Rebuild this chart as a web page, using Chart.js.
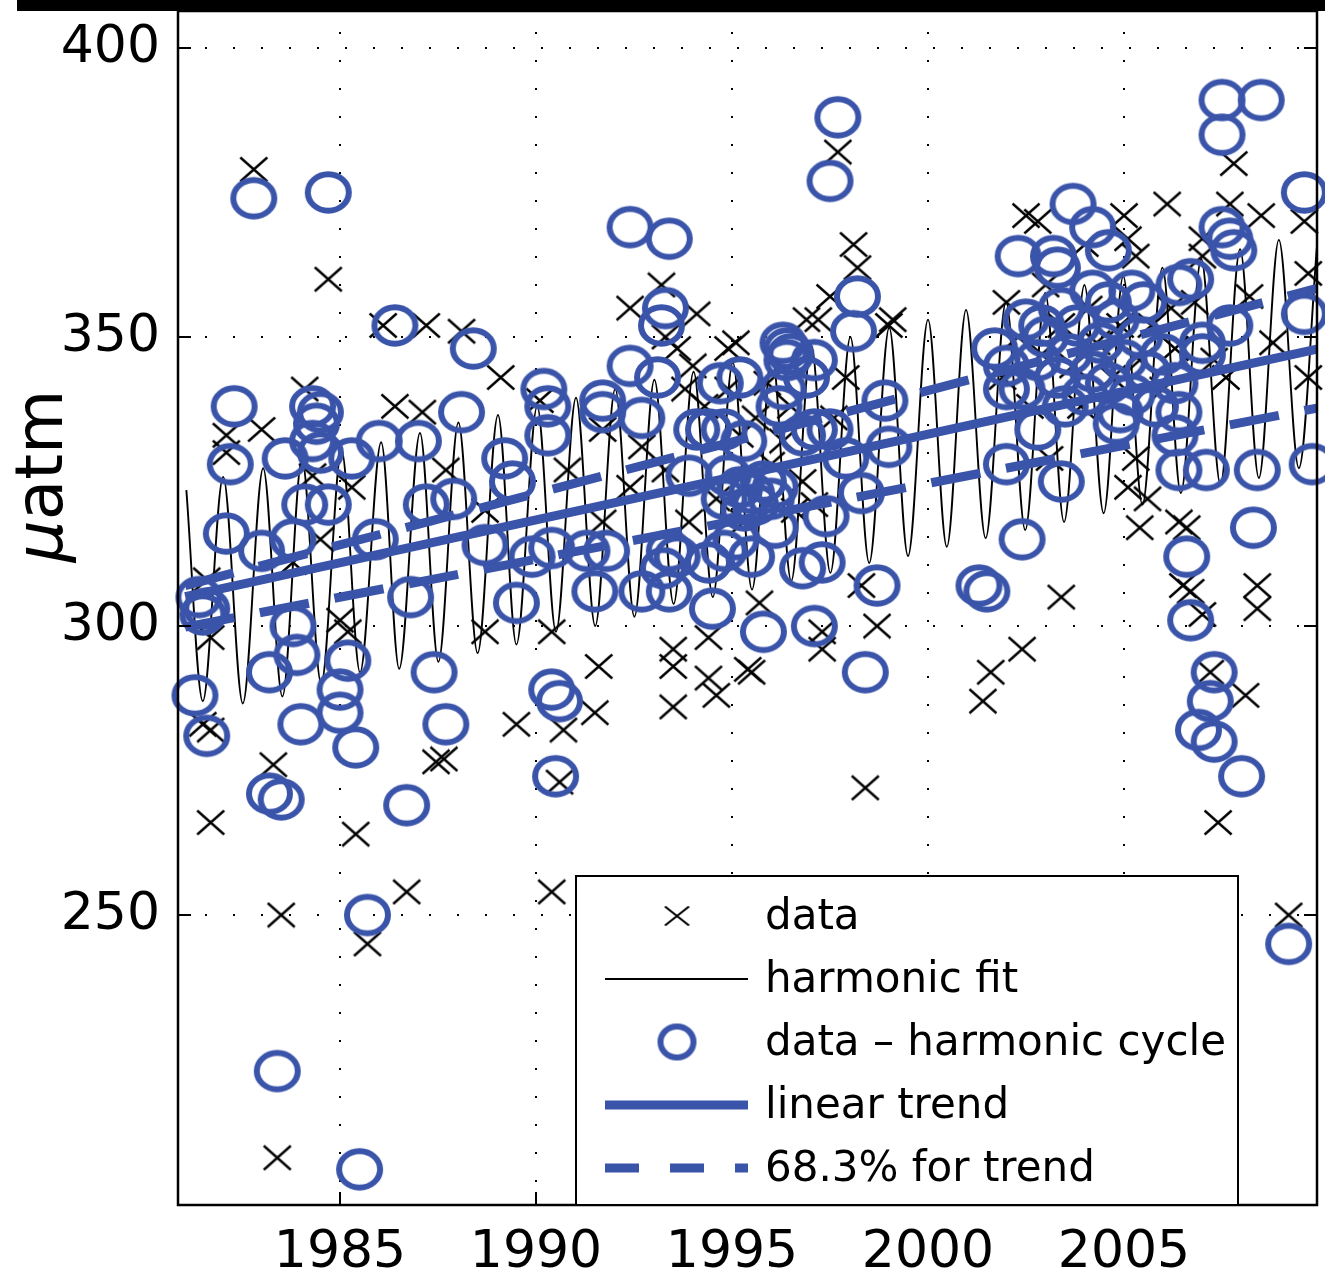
<!DOCTYPE html>
<html>
<head>
<meta charset="utf-8">
<title>pCO2 trend</title>
<script src="https://cdn.jsdelivr.net/npm/chart.js@4.4.1/dist/chart.umd.min.js"></script>
<style>
  body { margin: 0; background: #fff; }
  canvas { display: block; }
</style>
</head>
<body>
<canvas id="myChart" width="1325" height="1278"></canvas>
<script>
'use strict'

const xTicks = [1985, 1990, 1995, 2000, 2005];
const yTicks = [250, 300, 350, 400];

// measured pCO2 (crosses), [year, uatm]
const dataPts = [
  [1982.8, 379], [1984.7, 360], [1986.1, 352], [1987.2, 352], [1988.1, 351], [1989.1, 343],
  [1990.1, 339], [1984.1, 341], [1986.4, 338], [1987.1, 337], [1982.1, 333], [1983.0, 334],
  [1982.1, 330], [1985.3, 324], [1984.3, 326], [1987.7, 327], [1988.7, 320], [1984.5, 315],
  [1983.8, 311], [1981.6, 308], [1981.7, 298], [1985.0, 301], [1985.2, 299], [1988.7, 299],
  [1990.4, 299], [1981.5, 283], [1981.7, 282], [1987.45, 276.5], [1987.65, 277], [1989.5, 283],
  [1983.3, 276], [1981.7, 266], [1985.4, 264], [1986.7, 254], [1990.4, 254], [1983.5, 250],
  [1985.7, 245], [1983.4, 208],
  [1997.7, 382], [1998.1, 366], [1998.2, 362], [1997.5, 357], [1999.0, 352], [1999.1, 353],
  [1993.2, 359], [1992.4, 355], [1994.1, 354], [1993.3, 350], [1993.6, 348], [1994.0, 345],
  [1994.9, 348], [1995.1, 349], [1997.9, 343], [1997.2, 353], [1996.9, 353], [1991.7, 334],
  [1992.7, 331], [1990.8, 327], [1992.4, 324], [1991.7, 318], [1991.6, 293], [1991.5, 285],
  [1990.7, 282], [1990.6, 273], [1993.5, 296], [1994.4, 298], [1993.5, 293], [1994.4, 291],
  [1994.6, 288], [1993.5, 286], [1995.5, 292], [1995.4, 292.5], [1995.7, 304], [1997.3, 299],
  [1997.3, 296], [1998.7, 300], [1998.3, 307], [1998.4, 272], [1996.8, 325], [1996.3, 332],
  [1995.2, 333], [1994.3, 338], [1994.9, 341], [1995.6, 336], [1995.9, 342], [1996.5, 338],
  [1996.0, 328], [1995.3, 318], [1994.6, 322], [1993.3, 327], [1993.9, 318], [1996.6, 320],
  [1997.6, 336], [1993.8, 341], [1997.1, 321],
  [2007.8, 380], [2006.1, 373], [2007.7, 373], [2008.5, 371], [2009.6, 370], [2007.0, 367],
  [2007.0, 364], [2002.8, 370], [2002.5, 371], [2005.0, 371], [2005.1, 367], [2005.3, 364],
  [2004.0, 366], [2002.0, 356], [2003.0, 359], [2009.7, 361], [2009.7, 343], [2005.3, 329],
  [2005.6, 322], [2005.4, 317], [2006.4, 318], [2006.6, 317], [2006.5, 307], [2006.7, 306],
  [2007.0, 302], [2008.4, 307], [2008.4, 303], [2007.2, 292], [2008.1, 288], [2007.4, 266],
  [2005.1, 324], [2003.1, 329], [2003.4, 305], [2002.4, 296], [2001.6, 292], [2001.4, 287],
  [2009.2, 250],
  [2002.3, 350], [2002.9, 347], [2003.4, 352], [2003.7, 345], [2004.1, 355], [2004.3, 349],
  [2004.7, 343], [2004.9, 352], [2005.4, 346], [2005.7, 352], [2006.0, 341], [2006.2, 355],
  [2003.9, 338], [2001.9, 343], [2002.6, 338], [2006.8, 356], [2007.3, 346], [2008.8, 349],
  [2008.2, 357], [2007.6, 343], [2006.3, 348]
];

// data minus harmonic cycle (circles)
const cyclePts = [
  [1982.8, 374], [1984.7, 375], [1986.4, 352], [1988.4, 348], [1990.2, 341], [1982.3, 338],
  [1984.3, 338], [1988.1, 337], [1984.4, 335], [1984.3, 332], [1984.5, 330], [1984.5, 337],
  [1983.6, 329], [1985.3, 329], [1986.0, 332], [1987.0, 332], [1982.2, 328], [1989.2, 329],
  [1989.4, 325], [1990.3, 333], [1990.3, 338], [1984.1, 321], [1984.7, 321], [1987.2, 321],
  [1987.9, 322], [1982.1, 316], [1983.0, 313], [1983.8, 315], [1985.9, 315], [1988.7, 314],
  [1989.9, 312], [1990.4, 313.5], [1981.4, 305], [1981.6, 303], [1981.5, 302], [1986.8, 305],
  [1989.5, 304], [1983.8, 300], [1983.9, 295], [1983.2, 292], [1981.3, 288], [1981.6, 281],
  [1985.2, 294], [1985.0, 289], [1985.0, 285], [1984.0, 283], [1985.4, 279], [1987.4, 292],
  [1987.7, 283], [1990.4, 289], [1990.6, 287], [1990.5, 274], [1983.2, 271], [1983.5, 270],
  [1986.7, 269], [1985.7, 250], [1983.4, 223], [1985.5, 206],
  [1997.7, 388], [1997.5, 377], [1992.4, 369], [1993.4, 367], [1998.2, 357], [1998.1, 351],
  [1993.3, 355], [1993.2, 352], [1992.4, 345], [1993.1, 343], [1991.7, 339], [1994.7, 342],
  [1995.2, 343], [1996.3, 349], [1996.4, 348], [1996.5, 347], [1996.4, 346], [1997.1, 346],
  [1996.3, 341], [1998.9, 339], [1991.7, 337], [1992.7, 336], [1994.1, 334], [1994.4, 334],
  [1994.8, 334], [1995.3, 332], [1996.2, 338], [1996.8, 333], [1997.1, 334], [1997.5, 334],
  [1997.9, 329], [1999.0, 331], [1993.9, 326], [1994.9, 326], [1995.2, 324], [1995.5, 323],
  [1995.8, 325], [1996.1, 324], [1995.3, 320], [1995.6, 321], [1996.0, 322], [1996.1, 317],
  [1995.1, 315], [1995.5, 312], [1993.6, 312], [1993.4, 313], [1994.4, 311], [1994.8, 313],
  [1993.4, 306], [1994.5, 303], [1991.5, 306], [1991.3, 313], [1991.8, 313], [1996.8, 310],
  [1997.3, 311], [1997.4, 319], [1998.3, 323], [1998.7, 307], [1995.8, 299], [1997.1, 300],
  [1998.4, 292], [1992.7, 306], [1996.9, 343], [1994.8, 322], [1993.25, 310],
  [2007.5, 391], [2008.5, 391], [2007.5, 385], [2009.6, 375], [2007.5, 369], [2007.7, 367],
  [2007.8, 365], [2003.7, 373], [2004.2, 369], [2004.6, 365], [2002.3, 364], [2003.2, 364],
  [2003.3, 362], [2006.4, 359], [2006.7, 360], [2001.7, 348], [2002.5, 353], [2002.9, 352],
  [2003.4, 355], [2004.2, 358], [2004.6, 356], [2005.2, 358], [2005.5, 356], [2007.0, 349],
  [2007.0, 347], [2007.7, 352], [2009.6, 354],
  [2002.0, 345], [2002.4, 341], [2002.8, 346], [2003.0, 350], [2003.3, 343], [2003.6, 347],
  [2003.8, 352], [2004.0, 340], [2004.2, 344], [2004.4, 349], [2004.6, 342], [2004.8, 353],
  [2005.0, 346], [2005.2, 340], [2005.4, 350], [2005.6, 344], [2005.8, 338], [2006.0, 347],
  [2006.3, 342], [2004.9, 337], [2003.5, 338], [2002.0, 341], [2006.4, 337],
  [2002.0, 328], [2003.4, 325], [2002.4, 315], [2001.3, 307], [2001.5, 306], [2002.8, 334],
  [2004.8, 335], [2006.3, 333], [2006.4, 327], [2007.1, 327], [2008.4, 327], [2009.8, 328],
  [2008.3, 317], [2006.6, 312], [2006.7, 301], [2007.3, 292], [2007.2, 287], [2006.9, 282],
  [2007.3, 280], [2008.0, 274], [2009.2, 245]
];

// harmonic fit, read at its peaks and troughs
const fitPts = [
  [1981.08, 323.5], [1981.50, 287.0],
  [1982.02, 325.8], [1982.52, 286.6], [1983.04, 327.3], [1983.53, 287.8],
  [1984.03, 328.8], [1984.52, 290.0], [1985.04, 330.4], [1985.51, 292.0],
  [1986.05, 331.8], [1986.51, 292.6], [1987.04, 333.4], [1987.51, 293.8],
  [1988.02, 335.2], [1988.51, 295.3], [1989.03, 336.5], [1989.50, 296.8],
  [1990.03, 338.0], [1990.51, 299.0], [1991.02, 339.5], [1991.51, 300.0],
  [1992.02, 341.0], [1992.51, 301.6], [1993.02, 342.6], [1993.51, 303.8],
  [1994.02, 344.0], [1994.51, 305.0], [1995.02, 345.6], [1995.51, 306.3],
  [1996.02, 347.0], [1996.51, 307.8], [1997.02, 348.6], [1997.51, 309.2],
  [1998.02, 350.0], [1998.50, 310.9], [1999.01, 351.6], [1999.49, 312.1],
  [2000.00, 353.0], [2000.48, 313.7], [2000.97, 354.7], [2001.47, 315.2],
  [2001.99, 356.1], [2002.48, 316.6], [2002.99, 357.6], [2003.47, 318.0],
  [2003.99, 359.0], [2004.48, 319.5], [2004.98, 360.5], [2005.47, 321.0],
  [2005.98, 362.0], [2006.45, 323.0], [2006.97, 363.5], [2007.46, 324.5],
  [2007.96, 365.2], [2008.44, 325.6], [2008.95, 366.8], [2009.46, 327.3],
  [2009.92, 365.5]
];

// linear trend and the 68.3% lines, end points
const trendYears = [1981.05, 2009.92];
const trendVals = [305.1, 347.9];
const upperVals = [307.0, 358.4];
const lowerVals = [299.8, 337.7];

const blue = 'rgb(58, 84, 170)';

function pts(list) {
  return list.map(p => ({ x: p[0], y: p[1] }));
}

function line(years, vals) {
  return years.map((x, i) => ({ x: x, y: vals[i] }));
}

/* marker images: the original figure is a little wider than tall */
function makeCross(w, h, lw) {
  let c = document.createElement('canvas');
  c.width = w; c.height = h;
  let g = c.getContext('2d');
  g.strokeStyle = '#000';
  g.lineWidth = lw;
  g.beginPath();
  g.moveTo(1.5, 1.5); g.lineTo(w - 1.5, h - 1.5);
  g.moveTo(w - 1.5, 1.5); g.lineTo(1.5, h - 1.5);
  g.stroke();
  return c;
}

function makeRing(rx, ry, lw) {
  let c = document.createElement('canvas');
  c.width = Math.ceil(2 * rx + lw + 2);
  c.height = Math.ceil(2 * ry + lw + 2);
  let g = c.getContext('2d');
  g.strokeStyle = blue;
  g.lineWidth = lw;
  g.beginPath();
  g.ellipse(c.width / 2, c.height / 2, rx, ry, 0, 0, 2 * Math.PI);
  g.stroke();
  return c;
}

const cross = makeCross(30, 27, 2.4);
const crossSmall = makeCross(27, 22, 2.2);
const ring = makeRing(20.5, 18.2, 6);
const ringSmall = makeRing(16.5, 15.5, 6);

function drawYTitle(chart) {
  const {ctx, chartArea: a} = chart;
  ctx.save();
  ctx.translate(62, (a.top + a.bottom) / 2 - 132);
  ctx.rotate(-Math.PI / 2);
  ctx.fillStyle = '#000';
  ctx.textBaseline = 'alphabetic';
  ctx.textAlign = 'left';
  ctx.font = 'oblique 66px "DejaVu Sans"';
  const w1 = ctx.measureText('μ').width;
  ctx.font = '66px "DejaVu Sans"';
  const w2 = ctx.measureText('atm').width;
  const sx = -(w1 + w2) / 2;
  ctx.font = 'oblique 66px "DejaVu Sans"';
  ctx.fillText('μ', sx, 0);
  ctx.font = '66px "DejaVu Sans"';
  ctx.fillText('atm', sx + w1, 0);
  ctx.restore();
}

function drawLegend(chart) {
  const {ctx, chartArea: a} = chart;
  const w = 662, h = 329;
  const left = a.right - 79 - w;
  const top = a.bottom - h;
  ctx.save();
  ctx.fillStyle = '#fff';
  ctx.fillRect(left, top, w, h);
  ctx.strokeStyle = '#000';
  ctx.lineWidth = 2;
  ctx.strokeRect(left, top, w, h);
  ctx.font = '42px "DejaVu Sans"';
  ctx.textBaseline = 'middle';
  let seen = [];
  let row = 0;
  chart.data.datasets.forEach(ds => {
    if (seen.includes(ds.label)) return;
    seen.push(ds.label);
    const cy = top + 40 + row * 63;
    if (ds.showLine) {
      ctx.beginPath();
      ctx.setLineDash(ds.legendDash || []);
      ctx.strokeStyle = ds.borderColor;
      ctx.lineWidth = ds.borderWidth;
      ctx.moveTo(left + 29, cy);
      ctx.lineTo(left + 172, cy);
      ctx.stroke();
      ctx.setLineDash([]);
    } else {
      const img = ds.legendStyle || ds.pointStyle;
      ctx.drawImage(img, left + 101 - img.width / 2, cy - img.height / 2);
    }
    ctx.fillStyle = '#000';
    ctx.fillText(ds.label, left + 189, cy + 2);
    row++;
  });
  ctx.restore();
}

const framePlugin = {
  id: 'frame',
  afterDatasetsDraw(chart) {
    const {ctx, chartArea: a, scales} = chart;
    ctx.save();
    ctx.strokeStyle = '#000';
    ctx.lineWidth = 2.5;
    ctx.strokeRect(a.left, a.top, a.right - a.left, a.bottom - a.top);
    // inward tick marks
    ctx.lineWidth = 2;
    ctx.beginPath();
    yTicks.forEach(v => {
      const p = scales.y.getPixelForValue(v);
      ctx.moveTo(a.left, p); ctx.lineTo(a.left + 13, p);
      ctx.moveTo(a.right, p); ctx.lineTo(a.right - 13, p);
    });
    xTicks.forEach(v => {
      const p = scales.x.getPixelForValue(v);
      ctx.moveTo(p, a.bottom); ctx.lineTo(p, a.bottom - 13);
    });
    ctx.stroke();
    // thick black band along the top
    ctx.fillStyle = '#000';
    ctx.fillRect(17, 0, chart.width - 17, a.top);
    ctx.restore();
  },
  afterDraw(chart) {
    drawYTitle(chart);
    drawLegend(chart);
  }
};

let ctx = document.getElementById('myChart');

new Chart(ctx, {
  type: 'scatter',
  data: {
    datasets: [{
      label: 'data',
      data: pts(dataPts),
      pointStyle: cross,
      legendStyle: crossSmall,
      pointRadius: 14,
      showLine: false,
      clip: false,
      order: 4
    }, {
      label: 'harmonic fit',
      data: pts(fitPts),
      showLine: true,
      pointRadius: 0,
      borderColor: '#000',
      borderWidth: 1.9,
      cubicInterpolationMode: 'monotone',
      order: 3
    }, {
      label: 'data – harmonic cycle',
      data: pts(cyclePts),
      pointStyle: ring,
      legendStyle: ringSmall,
      pointRadius: 20,
      showLine: false,
      clip: false,
      order: 2
    }, {
      label: 'linear trend',
      data: line(trendYears, trendVals),
      showLine: true,
      pointRadius: 0,
      borderColor: blue,
      borderWidth: 9,
      order: 1
    }, {
      label: '68.3% for trend',
      data: line(trendYears, upperVals),
      showLine: true,
      pointRadius: 0,
      borderColor: blue,
      borderWidth: 9,
      borderDash: [50, 26],
      legendDash: [34, 31],
      order: 0
    }, {
      label: '68.3% for trend',
      data: line(trendYears, lowerVals),
      showLine: true,
      pointRadius: 0,
      borderColor: blue,
      borderWidth: 9,
      borderDash: [50, 26],
      legendDash: [34, 31],
      order: 0
    }]
  },
  options: {
    responsive: false,
    animation: false,
    devicePixelRatio: 1,
    events: [],
    layout: {
      autoPadding: false,
      padding: { left: 0, top: 11, right: 8, bottom: 0 }
    },
    plugins: {
      legend: { display: false },
      tooltip: { enabled: false }
    },
    scales: {
      x: {
        type: 'linear',
        min: 1980.867,
        max: 2009.923,
        afterBuildTicks: s => { s.ticks = xTicks.map(v => ({ value: v })); },
        afterFit: s => {
          s.height = 73;
          s.paddingLeft = 0;
          s.paddingRight = 0;
        },
        grid: { color: '#000', lineWidth: 2, drawTicks: false },
        border: { display: false, dash: [2, 26], dashOffset: 7 },
        ticks: {
          autoSkip: false,
          maxRotation: 0,
          padding: 17,
          color: '#000',
          font: { family: 'DejaVu Sans', size: 52 },
          callback: v => String(v)
        }
      },
      y: {
        type: 'linear',
        min: 199.83,
        max: 406.4,
        afterBuildTicks: s => { s.ticks = yTicks.map(v => ({ value: v })); },
        afterFit: s => {
          s.width = 178;
          s.paddingTop = 0;
          s.paddingBottom = 0;
        },
        grid: { color: '#000', lineWidth: 2, drawTicks: false },
        border: { display: false, dash: [2, 26], dashOffset: 1 },
        ticks: {
          padding: 18,
          color: '#000',
          font: { family: 'DejaVu Sans', size: 52 },
          callback: v => String(v)
        }
      }
    }
  },
  plugins: [framePlugin]
});
</script>
</body>
</html>
